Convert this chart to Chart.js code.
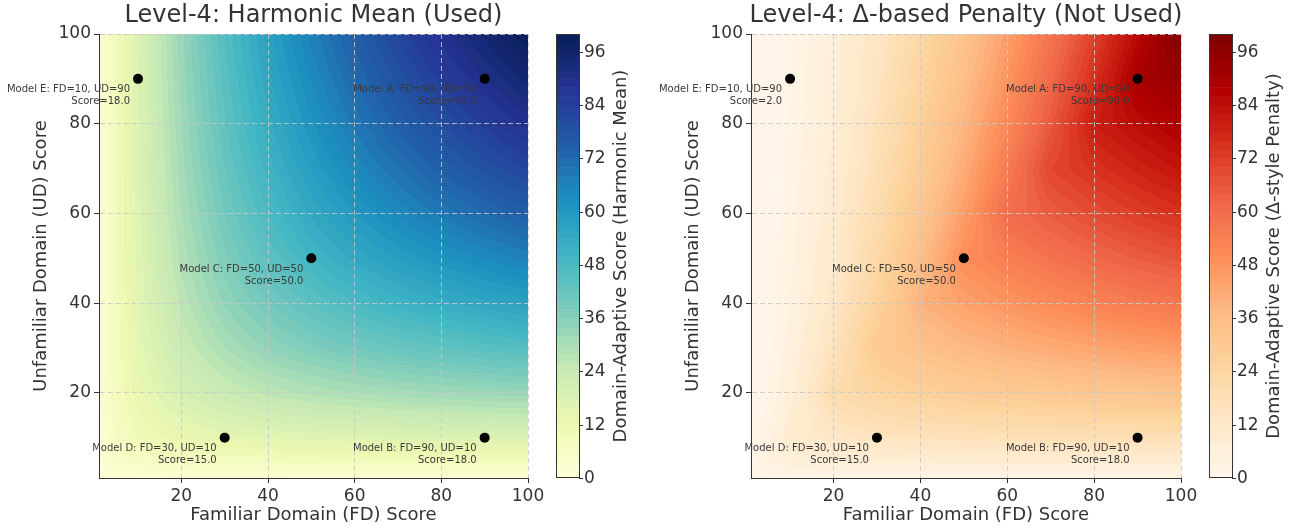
<!DOCTYPE html>
<html>
<head>
<meta charset="utf-8">
<script src="https://cdn.jsdelivr.net/npm/chart.js@4.4.1/dist/chart.umd.min.js"></script>
<style>
  html, body { margin: 0; padding: 0; background: #fff; }
  #wrap { position: relative; width: 1292px; height: 529px; }
  canvas { position: absolute; top: 0; }
</style>
</head>
<body>
<div id="wrap">
  <canvas id="left" width="652" height="529" style="left:0"></canvas>
  <canvas id="right" width="640" height="529" style="left:652px"></canvas>
</div>
<script>
// Models plotted on both panels
const modelNames = ['A', 'B', 'C', 'D', 'E']
const fdScores = [90, 90, 50, 30, 10]
const udScores = [90, 10, 50, 10, 90]
const harmonicScores = [90.0, 18.0, 50.0, 15.0, 18.0]
const penaltyScores = [90.0, 18.0, 50.0, 15.0, 2.0]

const axisTicks = [20, 40, 60, 80, 100]
const colorbarTicks = [0, 12, 24, 36, 48, 60, 72, 84, 96]

const gridNodes = [0, 5, 10, 20, 30, 40, 50, 60, 70, 80, 90, 100]
// rows: UD (gridNodes), columns: FD (gridNodes)
const harmonicGrid = [
  [0, 0, 0, 0, 0, 0, 0, 0, 0, 0, 0, 0],
  [0, 5, 6.7, 8, 8.6, 8.9, 9.1, 9.2, 9.3, 9.4, 9.5, 9.5],
  [0, 6.7, 10, 13.3, 15, 16, 16.7, 17.1, 17.5, 17.8, 18, 18.2],
  [0, 8, 13.3, 20, 24, 26.7, 28.6, 30, 31.1, 32, 32.7, 33.3],
  [0, 8.6, 15, 24, 30, 34.3, 37.5, 40, 42, 43.6, 45, 46.2],
  [0, 8.9, 16, 26.7, 34.3, 40, 44.4, 48, 50.9, 53.3, 55.4, 57.1],
  [0, 9.1, 16.7, 28.6, 37.5, 44.4, 50, 54.5, 58.3, 61.5, 64.3, 66.7],
  [0, 9.2, 17.1, 30, 40, 48, 54.5, 60, 64.6, 68.6, 72, 75],
  [0, 9.3, 17.5, 31.1, 42, 50.9, 58.3, 64.6, 70, 74.7, 78.8, 82.4],
  [0, 9.4, 17.8, 32, 43.6, 53.3, 61.5, 68.6, 74.7, 80, 84.7, 88.9],
  [0, 9.5, 18, 32.7, 45, 55.4, 64.3, 72, 78.8, 84.7, 90, 94.7],
  [0, 9.5, 18.2, 33.3, 46.2, 57.1, 66.7, 75, 82.4, 88.9, 94.7, 100],
]
const penaltyGrid = [
  [0, 0, 0, 0, 0, 0, 0, 0, 0, 0, 0, 0],
  [0, 5, 6.7, 8, 8.6, 8.9, 9.1, 9.2, 9.3, 9.4, 9.5, 9.5],
  [0, 3.3, 10, 13.3, 15, 16, 16.7, 17.1, 17.5, 17.8, 18, 18.2],
  [0, 2, 6.7, 20, 24, 26.7, 28.6, 30, 31.1, 32, 32.7, 33.3],
  [0, 1.4, 5, 16, 30, 34.3, 37.5, 40, 42, 43.6, 45, 46.2],
  [0, 1.1, 4, 13.3, 25.7, 40, 44.4, 48, 50.9, 53.3, 55.4, 57.1],
  [0, 0.9, 3.3, 11.4, 22.5, 35.6, 50, 54.5, 58.3, 61.5, 64.3, 66.7],
  [0, 0.8, 2.9, 10, 20, 32, 45.5, 60, 64.6, 68.6, 72, 75],
  [0, 0.7, 2.5, 8.9, 18, 29.1, 41.7, 55.4, 70, 74.7, 78.8, 82.4],
  [0, 0.6, 2.2, 8, 16.4, 26.7, 38.5, 51.4, 65.3, 80, 84.7, 88.9],
  [0, 0.5, 2, 7.3, 15, 24.6, 35.7, 48, 61.3, 75.3, 90, 94.7],
  [0, 0.5, 1.8, 6.7, 13.8, 22.9, 33.3, 45, 57.6, 71.1, 85.3, 100],
]

const YLGNBU = ['#ffffd9', '#edf8b1', '#c7e9b4', '#7fcdbb', '#41b6c4', '#1d91c0', '#225ea8', '#253494', '#081d58']
const ORRD = ['#fff7ec', '#fee8c8', '#fdd49e', '#fdbb84', '#fc8d59', '#ef6548', '#d7301f', '#b30000', '#7f0000']

const FONT = "'DejaVu Sans', sans-serif"
const TEXT = '#333'
const LEVELS = 50, VMAX = 100

const hexRgb = h => [1, 3, 5].map(i => parseInt(h.slice(i, i + 2), 16))

function makePalette(stops) {
  const rgb = stops.map(hexRgb)
  const n = rgb.length - 1
  const out = []
  for (let b = 0; b < LEVELS; b++) {
    const t = (b + 0.5) / LEVELS
    const i = Math.min(n - 1, Math.floor(t * n))
    const f = t * n - i
    out.push(rgb[i].map((c, k) => Math.round(c + (rgb[i + 1][k] - c) * f)))
  }
  return out
}

function findCell(v) {
  let i = 0
  while (i < gridNodes.length - 2 && v > gridNodes[i + 1]) i++
  const f = (v - gridNodes[i]) / (gridNodes[i + 1] - gridNodes[i])
  return [i, Math.max(0, Math.min(1, f))]
}

const surfacePlugin = {
  id: 'surface',
  beforeDraw(chart, args, opts) {
    const { ctx, chartArea: a, scales: { x, y } } = chart
    const w = Math.round(a.right - a.left), h = Math.round(a.bottom - a.top)
    const off = document.createElement('canvas')
    off.width = w; off.height = h
    const octx = off.getContext('2d')
    const img = octx.createImageData(w, h)
    const g = opts.grid, pal = opts.palette
    const xc = []
    for (let px = 0; px < w; px++) xc.push(findCell(x.getValueForPixel(a.left + px + 0.5)))
    let p = 0
    for (let py = 0; py < h; py++) {
      const [j, fy] = findCell(y.getValueForPixel(a.top + py + 0.5))
      for (let px = 0; px < w; px++) {
        const [i, fx] = xc[px]
        const v0 = g[j][i] + (g[j][i + 1] - g[j][i]) * fx
        const v1 = g[j + 1][i] + (g[j + 1][i + 1] - g[j + 1][i]) * fx
        const v = v0 + (v1 - v0) * fy
        const band = Math.max(0, Math.min(LEVELS - 1, Math.floor(v / (VMAX / LEVELS))))
        const c = pal[band]
        img.data[p++] = c[0]; img.data[p++] = c[1]; img.data[p++] = c[2]; img.data[p++] = 255
      }
    }
    octx.putImageData(img, 0, 0)
    ctx.drawImage(off, a.left, a.top)
  },
  afterDatasetsDraw(chart, args, opts) {
    const { ctx, scales: { x, y } } = chart
    ctx.save()
    ctx.font = `10px ${FONT}`
    ctx.fillStyle = '#3a3a3a'
    ctx.textAlign = 'right'
    ctx.textBaseline = 'middle'
    modelNames.forEach((m, i) => {
      const px = x.getPixelForValue(fdScores[i]), py = y.getPixelForValue(udScores[i])
      ctx.fillText(`Model ${m}: FD=${fdScores[i]}, UD=${udScores[i]}`, px - 8, py + 11)
      ctx.fillText(`Score=${opts.scores[i].toFixed(1)}`, px - 8, py + 23)
    })
    ctx.restore()
  },
  afterDraw(chart, args, opts) {
    const { ctx, chartArea: a } = chart
    ctx.save()
    // title
    ctx.fillStyle = TEXT
    ctx.font = `24px ${FONT}`
    ctx.textAlign = 'center'
    ctx.textBaseline = 'middle'
    ctx.fillText(opts.title, (a.left + a.right) / 2, 16)

    // colorbar
    const cl = a.right + 28, cw = 23, top = a.top, bot = a.bottom, ch = bot - top
    opts.palette.forEach((c, b) => {
      const y0 = bot - (b + 1) / LEVELS * ch, y1 = bot - b / LEVELS * ch
      ctx.fillStyle = `rgb(${c[0]},${c[1]},${c[2]})`
      ctx.fillRect(cl, y0, cw, y1 - y0 + 0.5)
    })
    ctx.strokeStyle = '#333'
    ctx.lineWidth = 1
    ctx.strokeRect(cl + 0.5, top + 0.5, cw, ch - 1)
    ctx.font = `17px ${FONT}`
    ctx.textAlign = 'left'
    ctx.fillStyle = TEXT
    colorbarTicks.forEach(v => {
      const yy = Math.round(bot - v / VMAX * ch) + 0.5
      ctx.beginPath(); ctx.moveTo(cl + cw, yy); ctx.lineTo(cl + cw + 4, yy); ctx.stroke()
      ctx.fillText(String(v), cl + cw + 5, yy)
    })
    ctx.translate(cl + cw + 42, (top + bot) / 2)
    ctx.rotate(-Math.PI / 2)
    ctx.textAlign = 'center'
    ctx.font = `18px ${FONT}`
    ctx.fillText(opts.cbLabel, 0, 0)
    ctx.restore()
  },
}

function axis(title, isX) {
  return {
    type: 'linear',
    min: 1,
    max: 100,
    afterBuildTicks: s => { s.ticks = axisTicks.map(v => ({ value: v })) },
    afterFit: s => { if (isX) s.height = 51; else s.width = 99 },
    ticks: { autoSkip: false, color: TEXT, font: { family: FONT, size: 17 }, padding: 3 },
    grid: { color: 'rgba(200,200,200,0.85)', lineWidth: 1, tickLength: 5, tickColor: '#333', tickWidth: 1 },
    border: { display: true, color: '#333', width: 1, dash: [5, 3] },
    title: {
      display: true, text: title, color: TEXT, font: { family: FONT, size: 18 },
      padding: isX ? { top: 0, bottom: 3 } : { top: 31, bottom: 0 },
    },
  }
}

function makePanel(id, padRight, cfg) {
  new Chart(document.getElementById(id), {
    type: 'scatter',
    data: {
      datasets: [{
        data: fdScores.map((v, i) => ({ x: v, y: udScores[i] })),
        backgroundColor: '#000',
        borderWidth: 0,
        pointRadius: 5,
        pointHoverRadius: 5,
      }],
    },
    options: {
      responsive: false,
      animation: false,
      layout: { padding: { left: 0, right: padRight, top: 34, bottom: 0 } },
      plugins: { legend: { display: false }, tooltip: { enabled: false }, surface: cfg },
      scales: {
        x: axis('Familiar Domain (FD) Score', true),
        y: axis('Unfamiliar Domain (UD) Score', false),
      },
    },
    plugins: [surfacePlugin],
  })
}

makePanel('left', 124, {
  title: 'Level-4: Harmonic Mean (Used)',
  cbLabel: 'Domain-Adaptive Score (Harmonic Mean)',
  grid: harmonicGrid,
  palette: makePalette(YLGNBU),
  scores: harmonicScores,
})
makePanel('right', 111, {
  title: 'Level-4: Δ-based Penalty (Not Used)',
  cbLabel: 'Domain-Adaptive Score (Δ-style Penalty)',
  grid: penaltyGrid,
  palette: makePalette(ORRD),
  scores: penaltyScores,
})
</script>
</body>
</html>
